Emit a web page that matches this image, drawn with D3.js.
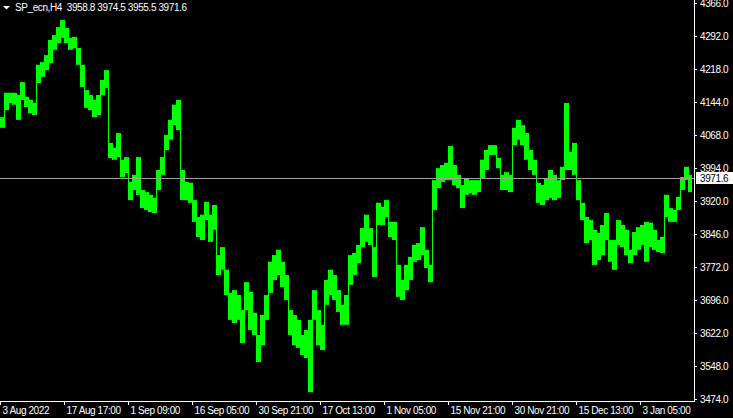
<!DOCTYPE html>
<html>
<head>
    <meta charset="utf-8" />
    <title>SP_ecn,H4</title>
    <script src="https://cdn.jsdelivr.net/npm/d3@7/dist/d3.min.js"></script>
    <style>
        body { margin: 0; background: #000; }
        svg { display: block; }
        .lbl { font-family: "Liberation Sans", Arial, sans-serif; font-size: 10px; letter-spacing: -0.4px; fill: #fff; }
    </style>
</head>
<body>
    <svg width="733" height="418"></svg>
    <script>
        // H4 bars, grouped (each entry = a few bars), high / low
        var highs = [4109,4164,4164,4164,4159,4188,4155,4148,4141,4227,4233,4249,4283,4294,4312,4328,4310,4288,4290,4265,
            4227,4170,4159,4148,4159,4193,4215,4051,4040,4073,4013,4019,3963,3979,4019,3945,3940,3934,3927,3990,
            4019,4069,4103,4137,4148,3990,3963,3961,3922,3884,3889,3918,3889,3911,3798,3816,3765,3713,3719,3708,
            3674,3737,3715,3668,3618,3663,3708,3783,3798,3810,3783,3753,3674,3663,3652,3618,3629,3652,3719,3674,
            3641,3742,3765,3753,3719,3686,3708,3798,3803,3821,3859,3889,3859,3816,3916,3907,3922,3873,3873,3776,
            3742,3776,3794,3821,3825,3861,3810,3776,3967,3994,4001,4006,4044,4001,3979,3956,3972,3967,3967,3967,
            4013,4035,4046,4046,4017,3979,3985,3979,4085,4103,4091,4073,4035,4013,3961,3956,3972,3990,3979,3967,
            3997,4141,4031,4051,3967,3916,3884,3877,3855,3848,3866,3893,3832,3832,3877,3866,3855,3810,3850,3861,
            3866,3873,3871,3855,3832,3839,3934,3904,3900,3929,3974,3997,3979];
        var lows = [4085,4125,4141,4137,4103,4148,4132,4118,4114,4186,4200,4215,4231,4261,4276,4288,4276,4261,4265,4227,
            4177,4130,4125,4109,4114,4159,4175,4017,4013,4019,3974,3983,3922,3945,3934,3904,3900,3895,3893,3945,
            3979,4035,4058,4091,4080,3922,3922,3916,3873,3839,3832,3877,3828,3855,3753,3765,3708,3652,3645,3652,
            3600,3674,3629,3618,3557,3595,3652,3713,3742,3753,3726,3697,3618,3595,3589,3573,3566,3489,3652,3595,
            3584,3686,3708,3697,3670,3641,3641,3731,3753,3780,3816,3828,3821,3749,3866,3866,3884,3839,3832,3704,
            3697,3719,3742,3783,3787,3798,3769,3737,3900,3949,3963,3967,3967,3956,3949,3904,3934,3938,3934,3940,
            3972,3990,4024,4024,3994,3945,3945,3940,4046,4058,4046,4013,3990,3979,3916,3911,3922,3927,3922,3927,
            3967,3990,3990,3979,3922,3877,3825,3832,3776,3787,3798,3832,3783,3765,3821,3816,3798,3780,3798,3810,
            3821,3783,3816,3810,3805,3803,3884,3873,3873,3900,3945,3967,3940];

        var priceTicks = [4366, 4292, 4218, 4144, 4068, 3994, 3920, 3846, 3772, 3696, 3622, 3548, 3474];
        var dateLabels = ["3 Aug 2022", "17 Aug 17:00", "1 Sep 09:00", "16 Sep 05:00", "30 Sep 21:00",
            "17 Oct 13:00", "1 Nov 05:00", "15 Nov 21:00", "30 Nov 21:00", "15 Dec 13:00", "3 Jan 05:00"];
        var dateBars = [0, 16, 32, 48, 64, 80, 96, 112, 128, 144, 160];
        var lastBar = [3958.8, 3974.5, 3955.5, 3971.6];

        var W = 694, H = 401;
        var svg = d3.select("svg");
        svg.append("rect").attr("width", 733).attr("height", 418).attr("fill", "#000");

        var x = d3.scaleBand().domain(d3.range(highs.length)).range([0, highs.length * 4]).padding(0);
        var y = d3.scaleLinear().domain([3469.1, 4373.2]).range([H, 0]);

        var plot = svg.append("g");
        plot.selectAll("rect.bar").data(highs)
            .enter().append("rect")
            .attr("class", "bar")
            .attr("x", function (d, i) { return x(i); })
            .attr("width", x.bandwidth())
            .attr("y", function (d) { return y(d); })
            .attr("height", function (d, i) { return Math.max(1, y(lows[i]) - y(d)); })
            .attr("fill", "#00ff00");

        // jump bars between groups that do not overlap
        plot.selectAll("rect.jump").data(d3.range(1, highs.length))
            .enter().append("rect")
            .attr("class", "jump")
            .attr("x", function (i) { return x(i); })
            .attr("width", 1)
            .attr("y", function (i) { return y(Math.max(highs[i], highs[i - 1])); })
            .attr("height", function (i) {
                return y(Math.min(lows[i], lows[i - 1])) - y(Math.max(highs[i], highs[i - 1]));
            })
            .attr("fill", "#00ff00");

        // bid line
        var last = lastBar[3];
        var ly = Math.round(y(last));
        plot.append("line")
            .attr("x1", 0).attr("x2", W)
            .attr("y1", ly + 0.5).attr("y2", ly + 0.5)
            .attr("stroke", "#a0a0a0").attr("stroke-width", 1);

        // frame
        svg.append("line").attr("x1", W + 0.5).attr("x2", W + 0.5).attr("y1", 0).attr("y2", H + 1)
            .attr("stroke", "#fff");
        svg.append("line").attr("x1", 0).attr("x2", W + 1).attr("y1", H + 0.5).attr("y2", H + 0.5)
            .attr("stroke", "#fff");

        // price axis
        var pa = svg.append("g");
        priceTicks.forEach(function (p) {
            var yy = Math.round(y(p)) + 0.5;
            pa.append("line").attr("x1", W).attr("x2", W + 3).attr("y1", yy).attr("y2", yy).attr("stroke", "#fff");
            pa.append("text").attr("class", "lbl").attr("x", W + 6).attr("y", yy + 3.5).text(p.toFixed(1));
        });

        // current price box
        pa.append("rect").attr("x", W + 2).attr("y", ly - 6).attr("width", 39).attr("height", 12).attr("fill", "#fff");
        pa.append("text").attr("class", "lbl").attr("x", W + 6).attr("y", ly + 4).style("fill", "#000").text(last.toFixed(1));

        // date axis
        var da = svg.append("g");
        dateBars.forEach(function (b, i) {
            var xx = x(b) + 0.5;
            da.append("line").attr("x1", xx).attr("x2", xx).attr("y1", H).attr("y2", H + 4).attr("stroke", "#fff");
            da.append("text").attr("class", "lbl").attr("x", xx + 2).attr("y", H + 13).text(dateLabels[i]);
        });

        // title
        svg.append("path").attr("d", "M3,6 L10,6 L6.5,9.5 Z").attr("fill", "#fff");
        svg.append("text").attr("class", "lbl").attr("x", 15).attr("y", 11)
            .style("white-space", "pre")
            .text("SP_ecn,H4  " + lastBar.map(function (v) { return v.toFixed(1); }).join(" "));
    </script>
</body>
</html>
